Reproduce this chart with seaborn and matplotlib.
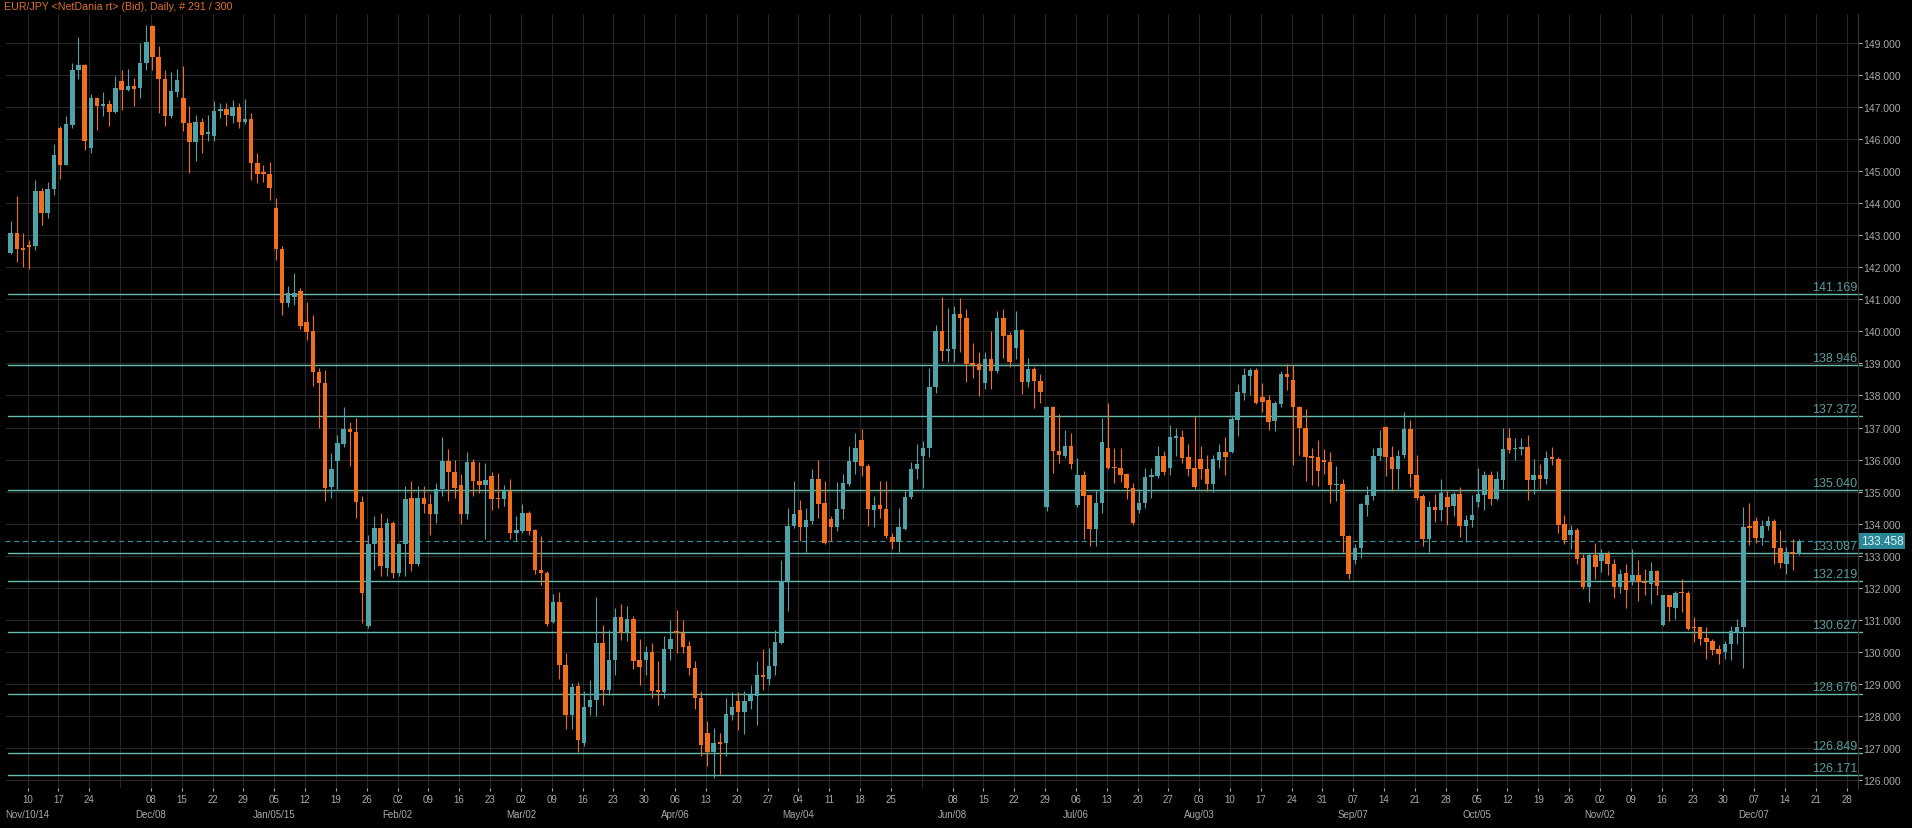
import numpy as np
import pandas as pd
import matplotlib
matplotlib.use("Agg")
import matplotlib.pyplot as plt
import matplotlib.transforms as mtransforms
import seaborn as sns

# daily OHLC, EUR/JPY (bar 0 = 2014-11-05)
opens = [
    142.46, 143.06, 142.60, 142.70, 142.65, 144.39, 143.68, 144.44, 146.34, 145.20,
    146.45, 148.15, 148.32, 145.72, 147.28, 147.02, 147.09, 146.86, 147.82, 147.54,
    147.67, 147.59, 148.37, 149.54, 148.56, 147.88, 146.73, 147.46, 147.28, 146.50,
    145.90, 146.55, 146.16, 146.10, 146.89, 146.95, 146.71, 146.99, 146.52, 146.64,
    145.27, 144.97, 144.92, 143.84, 142.56, 140.88, 141.08, 141.26, 140.30, 140.01,
    138.73, 138.39, 135.14, 135.95, 136.50, 136.96, 136.87, 134.67, 130.81, 133.35,
    133.87, 132.62, 134.03, 132.47, 133.35, 134.81, 132.73, 134.81, 134.60, 134.29,
    135.07, 135.95, 135.61, 135.22, 134.29, 135.92, 135.33, 135.22, 135.50, 134.81,
    134.78, 135.02, 133.72, 133.78, 134.34, 133.79, 132.55, 132.45, 130.93, 131.56,
    129.60, 128.02, 128.92, 127.16, 128.28, 128.49, 130.26, 128.80, 129.73, 131.08,
    130.59, 131.01, 129.73, 129.73, 129.99, 128.82, 128.74, 130.10, 130.66, 130.59,
    130.17, 129.50, 128.56, 127.47, 126.87, 127.19, 127.16, 128.04, 128.46, 128.12,
    128.46, 128.61, 129.29, 129.16, 129.55, 130.28, 132.20, 133.93, 134.43, 133.90,
    134.08, 135.38, 134.63, 134.16, 133.88, 134.45, 135.23, 135.93, 136.60, 135.80,
    134.43, 134.57, 134.47, 133.59, 133.43, 133.84, 134.84, 135.72, 136.11, 136.37,
    138.28, 140.01, 139.39, 139.44, 140.53, 140.43, 139.00, 138.97, 138.38, 139.15,
    138.77, 140.43, 139.88, 139.49, 140.04, 138.42, 138.82, 138.45, 134.52, 137.64,
    136.27, 136.11, 136.42, 134.57, 135.51, 134.88, 133.84, 134.63, 136.35, 135.77,
    135.75, 135.54, 135.12, 134.42, 134.63, 135.46, 135.50, 136.12, 135.74, 136.67,
    136.70, 136.08, 135.74, 136.02, 135.71, 135.25, 136.00, 136.24, 136.23, 137.25,
    138.07, 138.61, 138.80, 137.95, 137.85, 137.19, 137.74, 138.68, 138.49, 137.64,
    136.99, 136.12, 136.07, 136.00, 135.93, 135.20, 135.25, 133.61, 132.87, 133.23,
    134.57, 134.86, 136.10, 137.02, 136.08, 135.69, 136.13, 136.95, 135.52, 134.85,
    133.52, 134.51, 134.44, 134.83, 134.55, 134.94, 133.92, 134.10, 134.66, 134.89,
    135.53, 134.78, 135.35, 136.66, 136.32, 136.32, 136.40, 135.35, 135.53, 135.39,
    136.06, 136.03, 134.00, 133.66, 133.81, 132.93, 132.02, 133.01, 132.82, 133.06,
    132.75, 132.02, 132.47, 132.18, 132.39, 132.18, 132.13, 132.51, 130.84, 131.76,
    131.38, 131.86, 131.84, 130.79, 130.77, 130.43, 130.35, 130.09, 129.99, 130.23,
    130.61, 130.76, 133.92, 134.07, 133.55, 133.93, 134.07, 133.24, 132.73, 133.11,
    133.06,
]
highs = [
    143.46, 144.23, 143.06, 142.85, 144.73, 144.47, 144.65, 145.84, 146.40, 146.71,
    148.38, 149.18, 148.34, 147.42, 147.31, 147.46, 147.23, 147.98, 148.17, 148.19,
    147.90, 149.00, 149.57, 149.57, 148.90, 148.17, 148.08, 148.19, 148.27, 147.04,
    146.76, 146.66, 146.76, 147.18, 147.13, 147.13, 147.23, 147.13, 147.25, 146.81,
    145.56, 145.20, 145.30, 144.16, 142.65, 141.42, 141.81, 141.34, 140.93, 140.51,
    138.86, 138.81, 136.19, 136.78, 137.65, 137.17, 137.30, 134.86, 133.66, 134.24,
    134.34, 134.18, 134.08, 133.40, 135.17, 135.33, 135.17, 135.19, 134.91, 135.28,
    136.71, 136.34, 136.00, 135.54, 136.23, 136.02, 135.92, 135.88, 135.61, 135.59,
    135.22, 135.38, 134.24, 134.60, 134.39, 133.82, 133.61, 132.52, 131.79, 131.87,
    129.96, 129.03, 129.05, 128.77, 129.13, 131.71, 130.83, 130.69, 131.37, 131.50,
    131.42, 131.11, 130.40, 130.19, 130.26, 129.70, 130.49, 130.98, 131.29, 131.00,
    130.33, 129.70, 128.77, 127.83, 127.63, 127.47, 128.56, 128.74, 128.74, 128.77,
    128.95, 129.70, 130.09, 130.12, 130.67, 132.88, 134.49, 135.33, 134.74, 134.50,
    135.69, 136.00, 135.33, 134.24, 135.30, 135.56, 136.42, 136.82, 136.96, 135.85,
    134.86, 135.33, 135.33, 133.72, 134.50, 135.02, 135.93, 136.50, 136.58, 138.87,
    140.19, 141.08, 140.74, 140.79, 141.05, 140.69, 139.63, 139.36, 139.36, 140.01,
    140.64, 140.69, 139.98, 140.64, 140.07, 139.18, 138.90, 138.66, 137.66, 137.67,
    137.41, 136.92, 136.84, 136.06, 135.64, 134.90, 135.05, 137.31, 137.78, 136.37,
    136.37, 135.59, 135.27, 135.07, 135.74, 135.74, 136.41, 136.26, 137.09, 136.99,
    136.93, 136.50, 137.35, 136.42, 136.15, 136.15, 136.47, 136.70, 137.40, 138.37,
    138.85, 138.85, 138.85, 138.39, 138.02, 137.82, 138.75, 138.99, 138.96, 137.68,
    137.58, 136.36, 136.62, 136.33, 136.23, 135.79, 135.38, 133.64, 133.35, 134.63,
    135.17, 136.36, 136.93, 137.06, 136.41, 136.31, 137.47, 137.24, 136.14, 134.93,
    134.70, 134.94, 135.40, 135.01, 134.99, 135.15, 134.28, 134.89, 135.74, 135.64,
    135.64, 135.64, 136.99, 136.97, 136.66, 136.66, 136.76, 136.01, 135.87, 136.26,
    136.40, 136.08, 134.28, 133.95, 133.86, 133.06, 133.09, 133.41, 133.22, 133.14,
    132.89, 132.59, 132.75, 133.20, 132.85, 132.59, 132.80, 132.54, 131.78, 131.78,
    131.89, 132.28, 131.89, 131.08, 130.79, 130.77, 130.39, 130.22, 130.35, 130.82,
    131.03, 134.52, 134.63, 134.21, 134.10, 134.24, 134.14, 133.79, 133.27, 133.53,
    133.51,
]
lows = [
    142.42, 142.18, 142.02, 141.95, 142.54, 143.32, 143.53, 144.26, 144.76, 145.18,
    146.36, 147.88, 145.67, 145.56, 146.29, 146.71, 146.40, 146.81, 146.90, 147.49,
    147.02, 147.28, 148.17, 148.17, 146.81, 146.42, 146.66, 147.33, 146.24, 144.94,
    145.32, 145.56, 145.93, 145.93, 146.66, 146.42, 146.50, 146.36, 146.48, 144.73,
    144.63, 144.65, 144.10, 142.23, 140.51, 140.77, 140.82, 140.09, 139.73, 138.29,
    136.99, 134.70, 134.81, 135.07, 136.40, 135.80, 134.18, 130.91, 130.75, 132.54,
    132.36, 132.36, 132.31, 132.36, 132.36, 132.52, 132.68, 134.34, 133.66, 134.03,
    134.86, 134.70, 134.81, 133.98, 134.13, 134.86, 134.96, 133.51, 134.44, 134.50,
    134.55, 133.51, 133.46, 133.71, 133.66, 132.42, 132.10, 130.81, 130.89, 129.16,
    127.59, 127.59, 126.86, 127.05, 128.04, 128.01, 128.35, 128.66, 129.29, 130.38,
    130.33, 129.45, 128.98, 129.27, 128.56, 128.35, 128.56, 129.73, 129.97, 129.97,
    129.29, 128.20, 126.74, 126.43, 126.06, 126.20, 126.74, 127.88, 127.55, 127.42,
    128.20, 127.73, 128.80, 128.98, 129.29, 130.23, 131.27, 133.87, 133.45, 133.10,
    133.98, 134.19, 133.38, 133.46, 133.77, 134.13, 135.18, 135.54, 135.49, 133.93,
    133.91, 134.19, 133.56, 133.20, 133.10, 133.80, 134.76, 135.38, 135.12, 136.09,
    138.07, 139.08, 139.03, 139.03, 139.36, 138.42, 138.56, 137.99, 138.21, 138.19,
    138.71, 139.18, 138.90, 139.13, 138.04, 138.25, 137.62, 137.78, 134.39, 135.59,
    135.88, 136.06, 135.69, 134.53, 133.51, 133.30, 133.30, 134.34, 135.70, 135.28,
    135.30, 134.76, 133.95, 134.34, 134.50, 134.81, 135.43, 135.53, 135.53, 136.12,
    135.90, 135.50, 135.07, 135.38, 135.02, 134.98, 135.74, 135.53, 136.19, 136.75,
    137.87, 138.02, 137.74, 137.47, 136.91, 136.88, 137.64, 138.16, 135.84, 136.15,
    135.33, 135.22, 135.19, 135.56, 134.65, 134.70, 133.12, 132.26, 132.73, 132.94,
    134.24, 134.73, 136.00, 135.50, 135.01, 135.07, 136.04, 135.13, 134.74, 133.31,
    133.10, 134.05, 134.09, 133.95, 134.24, 133.58, 133.43, 133.90, 134.52, 134.42,
    134.59, 134.73, 135.07, 136.19, 135.98, 136.14, 134.73, 134.94, 135.09, 135.25,
    135.82, 133.72, 133.38, 133.22, 132.75, 131.95, 131.57, 132.28, 132.49, 132.39,
    131.68, 131.84, 131.36, 132.07, 131.60, 131.76, 131.50, 131.76, 130.82, 130.95,
    131.03, 131.24, 130.67, 130.32, 130.20, 129.78, 129.90, 129.63, 129.78, 129.73,
    130.25, 129.49, 133.32, 133.41, 133.32, 133.79, 132.75, 132.61, 132.44, 132.54,
    133.03,
]
closes = [
    143.06, 142.58, 142.54, 142.62, 144.39, 143.68, 144.44, 145.51, 145.20, 146.47,
    148.17, 148.32, 145.93, 147.28, 147.02, 147.09, 146.86, 147.59, 147.54, 147.67,
    147.58, 148.37, 149.03, 148.56, 147.88, 146.73, 147.49, 147.85, 146.50, 145.90,
    146.55, 146.14, 146.21, 146.89, 146.95, 146.74, 146.99, 146.52, 146.64, 145.27,
    144.91, 144.91, 144.47, 142.56, 140.88, 141.19, 141.19, 140.17, 139.99, 138.74,
    138.39, 135.12, 135.71, 136.52, 136.96, 136.86, 134.67, 131.85, 133.35, 133.87,
    132.68, 134.03, 132.47, 133.35, 134.78, 132.73, 134.81, 134.60, 134.29, 135.07,
    135.95, 135.61, 135.12, 134.29, 135.92, 135.33, 135.22, 135.36, 134.78, 134.76,
    135.02, 133.72, 133.80, 134.34, 133.77, 132.55, 132.45, 130.86, 131.56, 129.58,
    128.02, 128.90, 127.26, 128.28, 128.51, 130.26, 128.80, 129.73, 131.08, 130.59,
    131.01, 129.71, 129.52, 129.99, 128.79, 128.74, 130.10, 130.41, 130.59, 130.14,
    129.50, 128.56, 127.10, 126.87, 127.16, 127.13, 128.06, 128.28, 128.12, 128.48,
    128.64, 129.29, 129.22, 129.55, 130.31, 132.20, 133.94, 134.29, 133.91, 134.11,
    135.38, 134.60, 133.41, 133.88, 134.45, 135.26, 135.96, 136.37, 135.80, 134.45,
    134.57, 134.45, 133.61, 133.43, 133.88, 134.84, 135.72, 135.87, 136.37, 138.28,
    140.01, 139.39, 139.44, 140.53, 140.43, 138.97, 138.95, 138.80, 139.15, 138.77,
    140.43, 139.86, 139.05, 140.04, 138.42, 138.82, 138.45, 138.11, 137.64, 136.27,
    136.13, 136.42, 135.85, 135.51, 134.86, 133.82, 134.63, 136.56, 135.75, 135.73,
    135.51, 135.12, 134.01, 134.65, 135.46, 135.53, 136.12, 135.61, 136.69, 136.70,
    136.05, 135.72, 135.15, 135.71, 135.25, 136.02, 136.24, 136.08, 137.27, 138.11,
    138.65, 138.80, 137.78, 137.81, 137.16, 137.76, 138.68, 138.59, 137.63, 136.97,
    136.08, 136.04, 135.64, 135.92, 135.20, 135.25, 133.61, 132.42, 133.25, 134.60,
    134.88, 136.12, 136.36, 136.08, 135.69, 136.12, 136.95, 135.55, 134.79, 133.52,
    134.51, 134.43, 134.96, 134.52, 134.94, 133.92, 134.10, 134.26, 134.91, 135.53,
    134.78, 135.38, 136.34, 136.29, 136.36, 136.40, 135.35, 135.53, 135.39, 136.05,
    136.03, 133.97, 133.48, 133.81, 132.91, 132.02, 133.01, 132.65, 133.06, 132.73,
    132.02, 132.44, 131.92, 132.39, 132.18, 132.14, 132.51, 132.05, 131.76, 131.40,
    131.84, 131.82, 130.70, 130.74, 130.39, 130.32, 130.07, 129.94, 130.25, 130.65,
    130.77, 133.90, 133.86, 133.55, 133.93, 134.07, 133.24, 132.78, 133.11, 133.06,
    133.46,
]

level_values = [141.169, 138.946, 137.372, 135.040, 133.087,
                132.219, 130.627, 128.676, 126.849, 126.171]
last_price = 133.458
price_ticks = list(range(126, 150))

start_date = "2014-11-05"
n_slots = 300
skip_week_labels = ["2014-12-01", "2015-06-01"]
month_dates = ["2014-11-10", "2014-12-08", "2015-01-05", "2015-02-02", "2015-03-02",
               "2015-04-06", "2015-05-04", "2015-06-08", "2015-07-06", "2015-08-03",
               "2015-09-07", "2015-10-05", "2015-11-02", "2015-12-07"]
month_texts = ["Nov/10/14", "Dec/08", "Jan/05/15", "Feb/02", "Mar/02", "Apr/06",
               "May/04", "Jun/08", "Jul/06", "Aug/03", "Sep/07", "Oct/05",
               "Nov/02", "Dec/07"]
title_text = "EUR/JPY <NetDania rt> (Bid), Daily, # 291 / 300"

UP = "#4fa2a7"
DOWN = "#f06e1c"
LEVEL = "#63bcae"
LEVEL_TXT = "#5a9c9c"
GRID = "#272727"
TICK_TXT = "#a9a9a9"

sns.set_theme(style="dark", rc={"axes.facecolor": "black", "figure.facecolor": "black",
                                "axes.grid": False})
plt.rcParams["font.family"] = ["Liberation Sans", "DejaVu Sans"]

df = pd.DataFrame({"open": opens, "high": highs, "low": lows, "close": closes})
df["x"] = np.arange(len(df))
df["up"] = df["close"] >= df["open"]

slots = pd.bdate_range(start_date, periods=n_slots)
pos = pd.Series(np.arange(n_slots), index=slots)
mondays = [d for d in slots if d.weekday() == 0]
week_x = np.array([pos[d] for d in mondays]) - 0.25

fig = plt.figure(figsize=(19.12, 8.29), dpi=100)
ax = fig.add_axes([5 / 1912, 1 - 789 / 829, 1853 / 1912, 774 / 829])
ax.set_facecolor("black")
ax.set_xlim(-0.92, 299.6)
ax.set_ylim(125.75, 149.905)

# grid
ax.hlines(price_ticks, -0.92, 299.6, colors=GRID, lw=0.8, zorder=1)
ax.vlines(week_x, 125.75, 149.905, colors=GRID, lw=0.8, zorder=1)

# support / resistance levels
blend = mtransforms.blended_transform_factory(ax.transAxes, ax.transData)
for lv in level_values:
    ax.axhline(lv, xmin=0.0016, xmax=1.0022, color=LEVEL, lw=1.0, zorder=2, clip_on=False)
    ax.text(0.9995, lv + 0.03, f"{lv:.3f}", transform=blend, ha="right", va="bottom",
            fontsize=9, color=LEVEL_TXT, zorder=2)

ax.axhline(last_price, color="#3b8a9c", lw=0.9, ls=(0, (4, 3)), zorder=2)

# candles
colors = np.where(df["up"], UP, DOWN)
ax.vlines(df["x"], df["low"], df["high"], colors=colors, lw=0.8, zorder=3)
body_lo = np.minimum(df["open"], df["close"])
body_h = np.maximum((df["close"] - df["open"]).abs(), 0.05)
ax.bar(df["x"], body_h, bottom=body_lo, width=0.72, color=colors, lw=0, zorder=4)

# axes styling
for side in ["top", "left", "bottom"]:
    ax.spines[side].set_visible(False)
ax.spines["right"].set_color("#363636")
ax.spines["right"].set_linewidth(0.8)

ax.yaxis.tick_right()
ax.set_yticks(price_ticks)
ax.set_yticklabels([f"{v:.3f}" for v in price_ticks])
ax.tick_params(axis="y", length=3, width=0.8, pad=1, colors=TICK_TXT,
               labelsize=7.5, right=True, left=False)

tick_x, tick_lbl = [], []
for d, x in zip(mondays, week_x):
    if d.strftime("%Y-%m-%d") in skip_week_labels:
        continue
    tick_x.append(x)
    tick_lbl.append(d.strftime("%d"))
ax.set_xticks(tick_x)
ax.set_xticklabels(tick_lbl)
ax.tick_params(axis="x", length=2.5, width=0.8, pad=2, colors=TICK_TXT,
               labelsize=7, bottom=True)

xblend = mtransforms.blended_transform_factory(ax.transData, ax.transAxes)
for d, txt in zip(month_dates, month_texts):
    ax.text(pos[pd.Timestamp(d)] - 0.25, -0.0336, txt, transform=xblend,
            ha="center", va="center", fontsize=7, color=TICK_TXT, clip_on=False)

# last price tag
ax.text(1.0016, last_price, f"{last_price:.3f}", transform=blend, ha="left", va="center",
        fontsize=8.5, color="#e2f4f4", zorder=6, clip_on=False,
        bbox=dict(boxstyle="square,pad=0.15", fc="#2a8798", ec="none"))

fig.text(4 / 1912, 1 - 7.5 / 829, title_text, ha="left", va="center",
         fontsize=7.7, color="#e0702a")

fig.savefig("out.png", dpi=100, facecolor="black")
